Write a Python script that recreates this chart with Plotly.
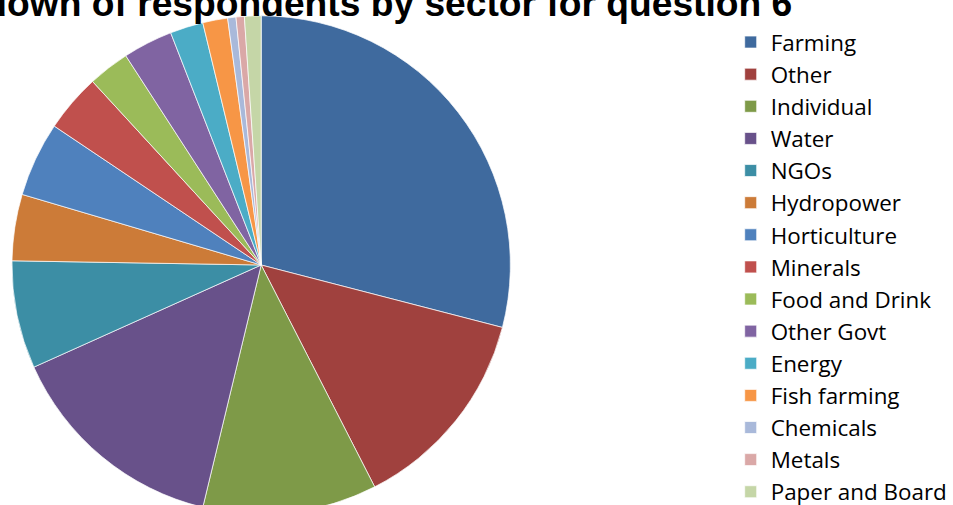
import plotly.graph_objects as go

sectors = ["Farming", "Other", "Individual", "Water", "NGOs", "Hydropower",
           "Horticulture", "Minerals", "Food and Drink", "Other Govt", "Energy",
           "Fish farming", "Chemicals", "Metals", "Paper and Board"]
counts = [54, 25, 21, 27, 13, 8, 9, 7, 5, 6, 4, 3, 1, 1, 2]
colors = ["#3F6A9E", "#A0413E", "#7E9A48", "#68518A", "#3C8EA5", "#CC7B38",
          "#4F81BD", "#C0504D", "#9BBB59", "#8064A2", "#4BACC6", "#F79646",
          "#A9B9DA", "#DAA8A7", "#C5D6A7"]
title_text = "Breakdown of respondents by sector for question 6"

W, H = 953, 522
mt, mb = 15, 7

fig = go.Figure(go.Pie(
    labels=sectors, values=counts, sort=False, direction="clockwise",
    rotation=0, textinfo="none", hoverinfo="label+value+percent",
    marker=dict(colors=colors, line=dict(color="white", width=0.7)),
    domain=dict(x=[12 / W, 512 / W], y=[0, 1]),
))

fig.add_annotation(
    text="<b>" + title_text + "</b>", xref="paper", yref="paper",
    x=797 / W, y=1 + (mt - 3) / (H - mt - mb), xanchor="right", yanchor="middle",
    showarrow=False, font=dict(family="Liberation Sans, Arial", size=37.2, color="black"),
)

fig.update_layout(
    width=W, height=H,
    margin=dict(l=0, r=0, t=mt, b=mb),
    paper_bgcolor="white", plot_bgcolor="white",
    showlegend=True,
    legend=dict(x=733 / W, xanchor="left", y=1 - (21 - mt) / (H - mt - mb), yanchor="top",
                font=dict(family="Open Sans", size=22.4, color="black"),
                bgcolor="rgba(0,0,0,0)", itemwidth=30),
)

fig.write_html("out.html")
